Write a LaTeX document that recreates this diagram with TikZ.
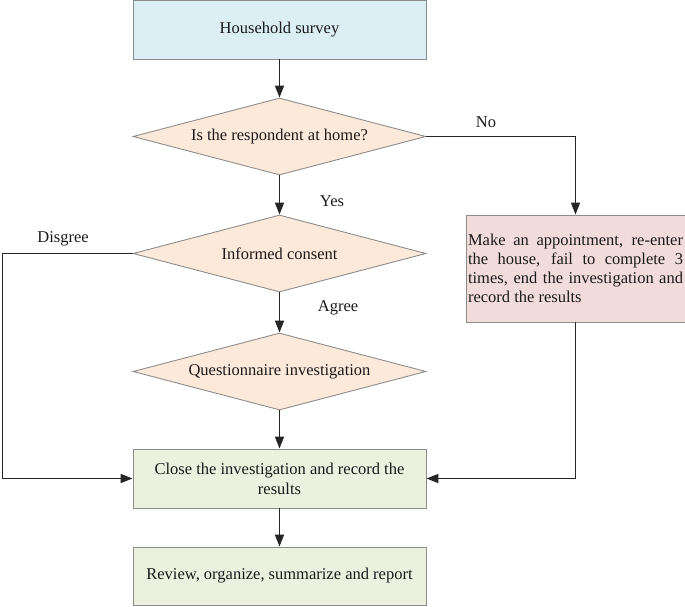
\documentclass[tikz,border=0pt]{standalone}
\usepackage{fontspec}
\setmainfont{Liberation Serif}
\usetikzlibrary{shapes.geometric,arrows.meta}
\definecolor{bluefill}{HTML}{DAEEF3}
\definecolor{peach}{HTML}{FDE9D9}
\definecolor{pinkfill}{HTML}{F2DCDB}
\definecolor{greenfill}{HTML}{EBF1DE}
\definecolor{edgegray}{HTML}{8C8C8C}
\definecolor{txt}{HTML}{1A1A1A}
\tikzset{
  base/.style={draw=edgegray, line width=0.9pt, text=txt, font=\fontsize{16.5}{20}\selectfont, inner sep=1pt},
  rectbox/.style={base, rectangle, minimum width=293pt, align=center},
  decision/.style={base, diamond, fill=peach, aspect=3.8, inner sep=0pt, minimum width=293pt, minimum height=77pt},
  arr/.style={-{Triangle[length=12pt,width=9pt]}, line width=1.6pt, black!85},
  lbl/.style={text=txt, font=\fontsize{16.5}{20}\selectfont, inner sep=0pt}
}
\begin{document}
\begin{tikzpicture}[x=1pt,y=-1pt]
\useasboundingbox (0,0) rectangle (685,607);
\node[rectbox, fill=bluefill, minimum height=59pt] (survey) at (279.5,29.5) {Household survey};
\node[decision] (d1) at (279.5,136.5) {Is the respondent at home?};
\node[decision] (d2) at (279.5,253.5) {Informed consent};
\node[decision] (d3) at (279.5,371.5) {Questionnaire investigation};
\node[base, rectangle, fill=pinkfill, minimum width=219pt, minimum height=107pt, text width=215pt, align=justify, font=\fontsize{16.5}{19}\selectfont] (pink) at (575.5,268.5)
  {Make an appointment, re-enter\linebreak the house, fail to complete 3\linebreak times, end the investigation and\linebreak record the results};
\node[rectbox, fill=greenfill, minimum height=59pt] (close) at (279.5,478.5) {Close the investigation and record the\\results};
\node[rectbox, fill=greenfill, minimum height=58pt] (review) at (279.5,576) {Review, organize, summarize and report};
\coordinate (dl) at (2.5,253.5);
\node[lbl] (no) at (486,122) {No};
\node[lbl] (yes) at (332,201) {Yes};
\node[lbl] (dis) at (63,239) {Disgree};
\node[lbl] (agr) at (338,308) {Agree};
\draw[arr] (survey) -- (d1);
\draw[arr] (d1) -- (d2);
\draw[arr] (d2) -- (d3);
\draw[arr] (d3) -- (close);
\draw[arr] (close) -- (review);
\draw[arr] (d1.east) -| (pink.north);
\draw[arr] (pink.south) |- (close.east);
\draw[arr] (d2.west) -- (dl) |- (close.west);
\end{tikzpicture}
\end{document}
